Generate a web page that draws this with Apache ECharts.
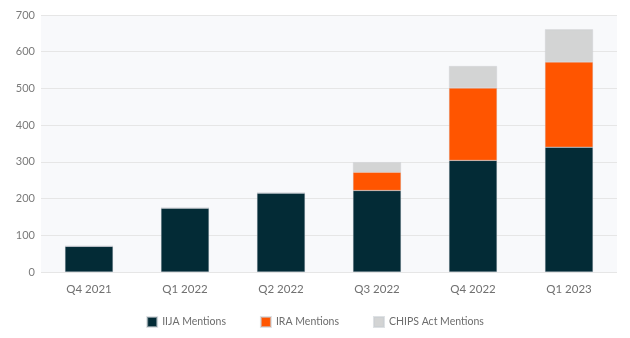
<!DOCTYPE html>
<html>
<head>
<meta charset="utf-8">
<script src="https://cdn.jsdelivr.net/npm/echarts@6/dist/echarts.min.js"></script>
<style>html,body{margin:0;padding:0;background:#fff;}#c{width:630px;height:338px;}</style>
</head>
<body>
<div id="c"></div>
<script>
const categories = ['Q4 2021', 'Q1 2022', 'Q2 2022', 'Q3 2022', 'Q4 2022', 'Q1 2023'];
const iijaMentions = [70, 174, 215, 222, 304, 340];
const iraMentions = [0, 0, 0, 50, 197, 232];
const chipsMentions = [0, 0, 0, 27, 60, 89];
const yTicks = [0, 100, 200, 300, 400, 500, 600, 700];

const chart = echarts.init(document.getElementById('c'));
const font = 'Lato, "Open Sans", sans-serif';
function bar(name, data, color) {
  return {
    name: name, type: 'bar', stack: 'total', data: data, barWidth: '50%',
    itemStyle: { color: color, borderColor: 'rgba(200,205,210,0.6)', borderWidth: 0.5 },
    emphasis: { disabled: true }
  };
}
chart.setOption({
  animation: false,
  textStyle: { fontFamily: font },
  grid: { left: 41, right: 13, top: 15, bottom: 66, show: true, backgroundColor: '#f8f9fb', borderWidth: 0 },
  legend: {
    bottom: 5, left: 'center', itemWidth: 10, itemHeight: 10, itemGap: 34, icon: 'rect',
    textStyle: { color: '#6d6d6d', fontSize: 10.5, fontFamily: font },
    data: ['IIJA Mentions', 'IRA Mentions', 'CHIPS Act Mentions']
  },
  xAxis: {
    type: 'category', data: categories,
    axisLine: { show: false }, axisTick: { show: false },
    axisLabel: { color: '#707070', fontSize: 11.5, margin: 11, fontFamily: font }
  },
  yAxis: {
    type: 'value', min: yTicks[0], max: yTicks[yTicks.length - 1], interval: 100,
    axisLine: { show: false }, axisTick: { show: false },
    axisLabel: { color: '#7a7a7a', fontSize: 11, margin: 6, fontFamily: font },
    splitLine: { lineStyle: { color: '#e6e6e6', width: 1 } }
  },
  series: [
    bar('IIJA Mentions', iijaMentions, '#032b36'),
    bar('IRA Mentions', iraMentions, '#ff5500'),
    bar('CHIPS Act Mentions', chipsMentions, '#d3d4d4')
  ]
});
</script>
</body>
</html>
